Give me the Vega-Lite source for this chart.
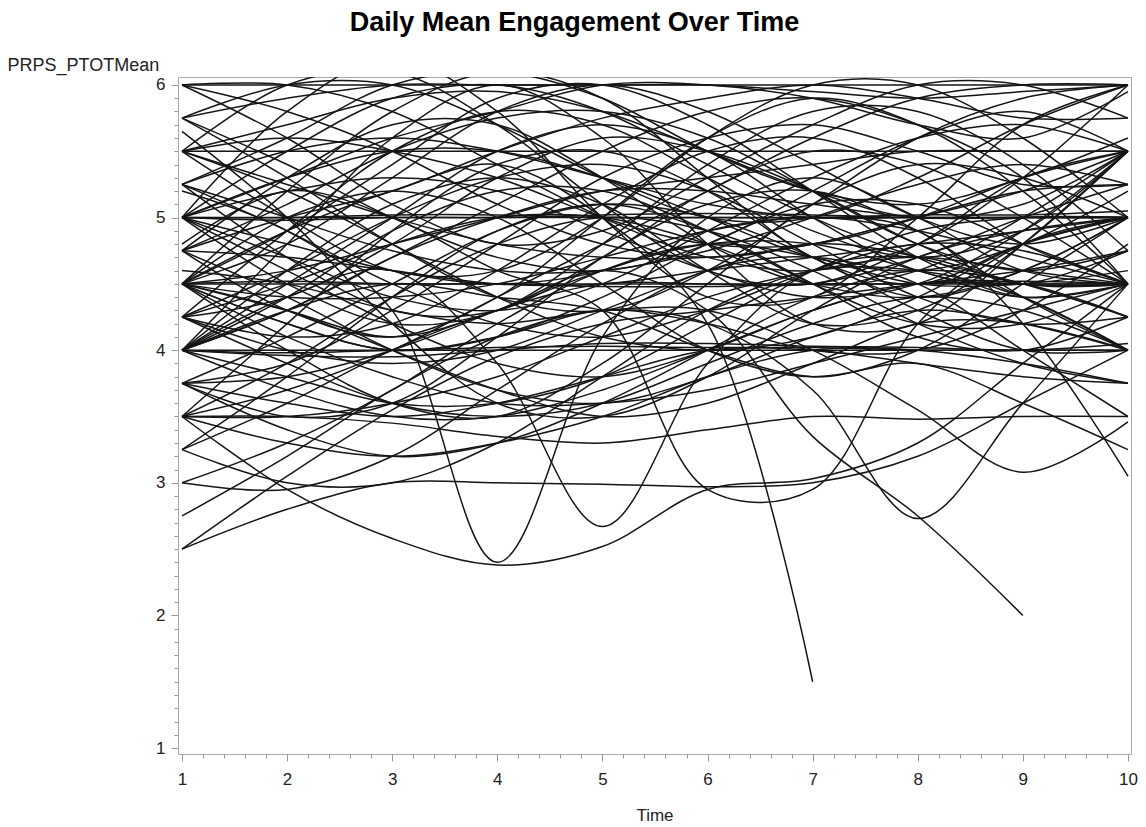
{
"$schema":"https://vega.github.io/schema/vega-lite/v6.json",
"width":953,"height":677,
"autosize":{"type":"none"},
"padding":{"left":178,"top":77,"right":15,"bottom":73},
"background":"white",
"config":{"view":{"stroke":"#a8a8a8","strokeWidth":1},"font":"Liberation Sans"},
"title":{"text":"Daily Mean Engagement Over Time","fontSize":27,"fontWeight":"bold","font":"Liberation Sans","color":"#000","anchor":"middle","frame":"group","dx":-80,"offset":19},
"data":{"values":[
{"s":1,"t":1,"v":6},{"s":1,"t":2,"v":6},{"s":1,"t":3,"v":6},{"s":1,"t":4,"v":6},{"s":1,"t":5,"v":6},{"s":1,"t":6,"v":6},{"s":1,"t":7,"v":6},{"s":1,"t":8,"v":6},{"s":1,"t":9,"v":6},{"s":1,"t":10,"v":6},
{"s":2,"t":1,"v":5.5},{"s":2,"t":2,"v":5.5},{"s":2,"t":3,"v":5.5},{"s":2,"t":4,"v":5.5},{"s":2,"t":5,"v":5.5},{"s":2,"t":6,"v":5.5},{"s":2,"t":7,"v":5.5},{"s":2,"t":8,"v":5.5},{"s":2,"t":9,"v":5.5},{"s":2,"t":10,"v":5.5},
{"s":3,"t":1,"v":5},{"s":3,"t":2,"v":5},{"s":3,"t":3,"v":5},{"s":3,"t":4,"v":5},{"s":3,"t":5,"v":5},{"s":3,"t":6,"v":5},{"s":3,"t":7,"v":5},{"s":3,"t":8,"v":5},{"s":3,"t":9,"v":5},{"s":3,"t":10,"v":5},
{"s":4,"t":1,"v":5},{"s":4,"t":2,"v":5},{"s":4,"t":3,"v":5.02},{"s":4,"t":4,"v":5.02},{"s":4,"t":5,"v":5},{"s":4,"t":6,"v":5},{"s":4,"t":7,"v":5},{"s":4,"t":8,"v":5.02},{"s":4,"t":9,"v":5.02},{"s":4,"t":10,"v":5.05},
{"s":5,"t":1,"v":5},{"s":5,"t":2,"v":4.98},{"s":5,"t":3,"v":5},{"s":5,"t":4,"v":5},{"s":5,"t":5,"v":5.02},{"s":5,"t":6,"v":5.03},{"s":5,"t":7,"v":5.02},{"s":5,"t":8,"v":5},{"s":5,"t":9,"v":5},{"s":5,"t":10,"v":5},
{"s":6,"t":1,"v":4.5},{"s":6,"t":2,"v":4.5},{"s":6,"t":3,"v":4.5},{"s":6,"t":4,"v":4.5},{"s":6,"t":5,"v":4.5},{"s":6,"t":6,"v":4.5},{"s":6,"t":7,"v":4.5},{"s":6,"t":8,"v":4.5},{"s":6,"t":9,"v":4.5},{"s":6,"t":10,"v":4.5},
{"s":7,"t":1,"v":4.5},{"s":7,"t":2,"v":4.52},{"s":7,"t":3,"v":4.5},{"s":7,"t":4,"v":4.5},{"s":7,"t":5,"v":4.48},{"s":7,"t":6,"v":4.48},{"s":7,"t":7,"v":4.5},{"s":7,"t":8,"v":4.5},{"s":7,"t":9,"v":4.52},{"s":7,"t":10,"v":4.5},
{"s":8,"t":1,"v":4},{"s":8,"t":2,"v":4},{"s":8,"t":3,"v":4},{"s":8,"t":4,"v":4},{"s":8,"t":5,"v":4},{"s":8,"t":6,"v":4},{"s":8,"t":7,"v":4},{"s":8,"t":8,"v":4},{"s":8,"t":9,"v":4},{"s":8,"t":10,"v":4},
{"s":9,"t":1,"v":4},{"s":9,"t":2,"v":3.98},{"s":9,"t":3,"v":4},{"s":9,"t":4,"v":4.02},{"s":9,"t":5,"v":4.03},{"s":9,"t":6,"v":4.02},{"s":9,"t":7,"v":4.02},{"s":9,"t":8,"v":4},{"s":9,"t":9,"v":4},{"s":9,"t":10,"v":4},
{"s":10,"t":1,"v":4},{"s":10,"t":2,"v":3.96},{"s":10,"t":3,"v":3.95},{"s":10,"t":4,"v":4},{"s":10,"t":5,"v":4.05},{"s":10,"t":6,"v":4.05},{"s":10,"t":7,"v":4.03},{"s":10,"t":8,"v":4.02},{"s":10,"t":9,"v":4},{"s":10,"t":10,"v":4.05},
{"s":11,"t":1,"v":3.5},{"s":11,"t":2,"v":3.5},{"s":11,"t":3,"v":3.45},{"s":11,"t":4,"v":3.35},{"s":11,"t":5,"v":3.3},{"s":11,"t":6,"v":3.4},{"s":11,"t":7,"v":3.5},{"s":11,"t":8,"v":3.48},{"s":11,"t":9,"v":3.5},{"s":11,"t":10,"v":3.5},
{"s":12,"t":1,"v":3.5},{"s":12,"t":2,"v":2.95},{"s":12,"t":3,"v":2.58},{"s":12,"t":4,"v":2.38},{"s":12,"t":5,"v":2.52},{"s":12,"t":6,"v":2.95},{"s":12,"t":7,"v":3.03},{"s":12,"t":8,"v":3.3},{"s":12,"t":9,"v":3.9},{"s":12,"t":10,"v":4.5},
{"s":13,"t":1,"v":2.5},{"s":13,"t":2,"v":2.8},{"s":13,"t":3,"v":3.0},{"s":13,"t":4,"v":3.0},{"s":13,"t":5,"v":2.99},{"s":13,"t":6,"v":2.97},{"s":13,"t":7,"v":3.0},{"s":13,"t":8,"v":3.2},{"s":13,"t":9,"v":3.6},{"s":13,"t":10,"v":4.0},
{"s":14,"t":1,"v":2.5},{"s":14,"t":2,"v":3.05},{"s":14,"t":3,"v":3.55},{"s":14,"t":4,"v":3.95},{"s":14,"t":5,"v":4.2},{"s":14,"t":6,"v":4.3},{"s":14,"t":7,"v":4.4},{"s":14,"t":8,"v":4.5},{"s":14,"t":9,"v":4.6},{"s":14,"t":10,"v":4.75},
{"s":15,"t":1,"v":4.5},{"s":15,"t":2,"v":4.9},{"s":15,"t":3,"v":5.2},{"s":15,"t":4,"v":5.4},{"s":15,"t":5,"v":5.0},{"s":15,"t":6,"v":4.2},{"s":15,"t":7,"v":1.5},
{"s":16,"t":1,"v":4.5},{"s":16,"t":2,"v":4.3},{"s":16,"t":3,"v":4.1},{"s":16,"t":4,"v":4.3},{"s":16,"t":5,"v":4.6},{"s":16,"t":6,"v":4.3},{"s":16,"t":7,"v":3.35},{"s":16,"t":8,"v":2.75},{"s":16,"t":9,"v":2.0},
{"s":17,"t":1,"v":5.2},{"s":17,"t":2,"v":4.9},{"s":17,"t":3,"v":4.3},{"s":17,"t":4,"v":2.4},{"s":17,"t":5,"v":4.1},{"s":17,"t":6,"v":5.0},{"s":17,"t":7,"v":5.3},{"s":17,"t":8,"v":5.0},{"s":17,"t":9,"v":4.6},{"s":17,"t":10,"v":4.5},
{"s":18,"t":1,"v":4.0},{"s":18,"t":2,"v":4.4},{"s":18,"t":3,"v":4.6},{"s":18,"t":4,"v":3.9},{"s":18,"t":5,"v":2.67},{"s":18,"t":6,"v":3.9},{"s":18,"t":7,"v":4.6},{"s":18,"t":8,"v":4.7},{"s":18,"t":9,"v":4.5},{"s":18,"t":10,"v":4.5},
{"s":19,"t":1,"v":4.8},{"s":19,"t":2,"v":5.2},{"s":19,"t":3,"v":5.0},{"s":19,"t":4,"v":4.6},{"s":19,"t":5,"v":4.3},{"s":19,"t":6,"v":2.95},{"s":19,"t":7,"v":2.95},{"s":19,"t":8,"v":4.2},{"s":19,"t":9,"v":4.8},{"s":19,"t":10,"v":5.0},
{"s":20,"t":1,"v":4.5},{"s":20,"t":2,"v":4.2},{"s":20,"t":3,"v":4.0},{"s":20,"t":4,"v":4.1},{"s":20,"t":5,"v":4.3},{"s":20,"t":6,"v":4.2},{"s":20,"t":7,"v":3.7},{"s":20,"t":8,"v":2.73},{"s":20,"t":9,"v":3.6},{"s":20,"t":10,"v":4.5},
{"s":21,"t":1,"v":4.6},{"s":21,"t":2,"v":4.5},{"s":21,"t":3,"v":4.3},{"s":21,"t":4,"v":4.2},{"s":21,"t":5,"v":4.3},{"s":21,"t":6,"v":4.3},{"s":21,"t":7,"v":4.0},{"s":21,"t":8,"v":3.55},{"s":21,"t":9,"v":3.08},{"s":21,"t":10,"v":3.46},
{"s":22,"t":1,"v":5.0},{"s":22,"t":2,"v":4.8},{"s":22,"t":3,"v":4.6},{"s":22,"t":4,"v":4.5},{"s":22,"t":5,"v":4.6},{"s":22,"t":6,"v":4.9},{"s":22,"t":7,"v":5.0},{"s":22,"t":8,"v":4.9},{"s":22,"t":9,"v":4.2},{"s":22,"t":10,"v":3.05},
{"s":23,"t":1,"v":4.0},{"s":23,"t":2,"v":4.3},{"s":23,"t":3,"v":4.5},{"s":23,"t":4,"v":4.4},{"s":23,"t":5,"v":4.3},{"s":23,"t":6,"v":4.0},{"s":23,"t":7,"v":3.8},{"s":23,"t":8,"v":3.9},{"s":23,"t":9,"v":3.6},{"s":23,"t":10,"v":3.25},
{"s":24,"t":1,"v":5.65},{"s":24,"t":2,"v":5.0},{"s":24,"t":3,"v":4.2},{"s":24,"t":4,"v":3.6},{"s":24,"t":5,"v":3.5},{"s":24,"t":6,"v":3.8},{"s":24,"t":7,"v":4.3},{"s":24,"t":8,"v":4.7},{"s":24,"t":9,"v":4.9},{"s":24,"t":10,"v":5.0},
{"s":25,"t":1,"v":5.5},{"s":25,"t":2,"v":5.7},{"s":25,"t":3,"v":5.9},{"s":25,"t":4,"v":5.95},{"s":25,"t":5,"v":5.8},{"s":25,"t":6,"v":5.5},{"s":25,"t":7,"v":5.2},{"s":25,"t":8,"v":5.0},{"s":25,"t":9,"v":5.1},{"s":25,"t":10,"v":5.5},
{"s":26,"t":1,"v":5.25},{"s":26,"t":2,"v":5.6},{"s":26,"t":3,"v":6.0},{"s":26,"t":4,"v":6.1},{"s":26,"t":5,"v":5.9},{"s":26,"t":6,"v":5.5},{"s":26,"t":7,"v":5.2},{"s":26,"t":8,"v":5.1},{"s":26,"t":9,"v":5.3},{"s":26,"t":10,"v":5.6},
{"s":27,"t":1,"v":5.75},{"s":27,"t":2,"v":5.9},{"s":27,"t":3,"v":6.0},{"s":27,"t":4,"v":6.0},{"s":27,"t":5,"v":6.0},{"s":27,"t":6,"v":6.0},{"s":27,"t":7,"v":5.95},{"s":27,"t":8,"v":5.9},{"s":27,"t":9,"v":5.95},{"s":27,"t":10,"v":6.0},
{"s":28,"t":1,"v":5.0},{"s":28,"t":2,"v":5.3},{"s":28,"t":3,"v":5.6},{"s":28,"t":4,"v":5.8},{"s":28,"t":5,"v":6.0},{"s":28,"t":6,"v":6.0},{"s":28,"t":7,"v":5.9},{"s":28,"t":8,"v":5.7},{"s":28,"t":9,"v":5.6},{"s":28,"t":10,"v":5.95},
{"s":29,"t":1,"v":4.75},{"s":29,"t":2,"v":5.0},{"s":29,"t":3,"v":5.2},{"s":29,"t":4,"v":5.5},{"s":29,"t":5,"v":5.75},{"s":29,"t":6,"v":5.9},{"s":29,"t":7,"v":6.0},{"s":29,"t":8,"v":5.9},{"s":29,"t":9,"v":5.75},{"s":29,"t":10,"v":5.75},
{"s":30,"t":1,"v":4.5},{"s":30,"t":2,"v":4.8},{"s":30,"t":3,"v":5.3},{"s":30,"t":4,"v":5.8},{"s":30,"t":5,"v":6.0},{"s":30,"t":6,"v":5.8},{"s":30,"t":7,"v":5.4},{"s":30,"t":8,"v":5.0},{"s":30,"t":9,"v":4.8},{"s":30,"t":10,"v":5.0},
{"s":31,"t":1,"v":4.25},{"s":31,"t":2,"v":4.4},{"s":31,"t":3,"v":4.8},{"s":31,"t":4,"v":5.3},{"s":31,"t":5,"v":5.6},{"s":31,"t":6,"v":5.5},{"s":31,"t":7,"v":5.2},{"s":31,"t":8,"v":4.8},{"s":31,"t":9,"v":4.5},{"s":31,"t":10,"v":4.5},
{"s":32,"t":1,"v":4.0},{"s":32,"t":2,"v":4.5},{"s":32,"t":3,"v":5.0},{"s":32,"t":4,"v":5.5},{"s":32,"t":5,"v":5.7},{"s":32,"t":6,"v":5.5},{"s":32,"t":7,"v":5.0},{"s":32,"t":8,"v":4.6},{"s":32,"t":9,"v":4.5},{"s":32,"t":10,"v":4.75},
{"s":33,"t":1,"v":3.75},{"s":33,"t":2,"v":3.9},{"s":33,"t":3,"v":4.3},{"s":33,"t":4,"v":4.8},{"s":33,"t":5,"v":5.3},{"s":33,"t":6,"v":5.6},{"s":33,"t":7,"v":5.7},{"s":33,"t":8,"v":5.5},{"s":33,"t":9,"v":5.25},{"s":33,"t":10,"v":5.25},
{"s":34,"t":1,"v":3.5},{"s":34,"t":2,"v":3.7},{"s":34,"t":3,"v":4.0},{"s":34,"t":4,"v":4.4},{"s":34,"t":5,"v":4.8},{"s":34,"t":6,"v":5.2},{"s":34,"t":7,"v":5.6},{"s":34,"t":8,"v":5.9},{"s":34,"t":9,"v":6.0},{"s":34,"t":10,"v":6.0},
{"s":35,"t":1,"v":3.25},{"s":35,"t":2,"v":3.6},{"s":35,"t":3,"v":4.0},{"s":35,"t":4,"v":4.3},{"s":35,"t":5,"v":4.5},{"s":35,"t":6,"v":4.5},{"s":35,"t":7,"v":4.5},{"s":35,"t":8,"v":4.7},{"s":35,"t":9,"v":5.0},{"s":35,"t":10,"v":5.25},
{"s":36,"t":1,"v":3.0},{"s":36,"t":2,"v":3.3},{"s":36,"t":3,"v":3.7},{"s":36,"t":4,"v":4.2},{"s":36,"t":5,"v":4.6},{"s":36,"t":6,"v":4.8},{"s":36,"t":7,"v":4.7},{"s":36,"t":8,"v":4.5},{"s":36,"t":9,"v":4.5},{"s":36,"t":10,"v":4.6},
{"s":37,"t":1,"v":2.75},{"s":37,"t":2,"v":3.2},{"s":37,"t":3,"v":3.7},{"s":37,"t":4,"v":4.1},{"s":37,"t":5,"v":4.3},{"s":37,"t":6,"v":4.2},{"s":37,"t":7,"v":4.0},{"s":37,"t":8,"v":4.0},{"s":37,"t":9,"v":4.3},{"s":37,"t":10,"v":4.8},
{"s":38,"t":1,"v":5.5},{"s":38,"t":2,"v":5.2},{"s":38,"t":3,"v":4.8},{"s":38,"t":4,"v":4.4},{"s":38,"t":5,"v":4.1},{"s":38,"t":6,"v":4.0},{"s":38,"t":7,"v":4.1},{"s":38,"t":8,"v":4.4},{"s":38,"t":9,"v":4.8},{"s":38,"t":10,"v":5.0},
{"s":39,"t":1,"v":5.25},{"s":39,"t":2,"v":4.9},{"s":39,"t":3,"v":4.5},{"s":39,"t":4,"v":4.2},{"s":39,"t":5,"v":4.1},{"s":39,"t":6,"v":4.3},{"s":39,"t":7,"v":4.6},{"s":39,"t":8,"v":4.8},{"s":39,"t":9,"v":4.75},{"s":39,"t":10,"v":4.5},
{"s":40,"t":1,"v":5.0},{"s":40,"t":2,"v":4.6},{"s":40,"t":3,"v":4.2},{"s":40,"t":4,"v":3.9},{"s":40,"t":5,"v":3.8},{"s":40,"t":6,"v":4.0},{"s":40,"t":7,"v":4.3},{"s":40,"t":8,"v":4.5},{"s":40,"t":9,"v":4.5},{"s":40,"t":10,"v":4.25},
{"s":41,"t":1,"v":4.75},{"s":41,"t":2,"v":4.4},{"s":41,"t":3,"v":4.0},{"s":41,"t":4,"v":3.7},{"s":41,"t":5,"v":3.6},{"s":41,"t":6,"v":3.8},{"s":41,"t":7,"v":4.1},{"s":41,"t":8,"v":4.3},{"s":41,"t":9,"v":4.2},{"s":41,"t":10,"v":4.0},
{"s":42,"t":1,"v":4.5},{"s":42,"t":2,"v":4.1},{"s":42,"t":3,"v":3.8},{"s":42,"t":4,"v":3.6},{"s":42,"t":5,"v":3.6},{"s":42,"t":6,"v":3.7},{"s":42,"t":7,"v":3.9},{"s":42,"t":8,"v":4.1},{"s":42,"t":9,"v":4.3},{"s":42,"t":10,"v":4.5},
{"s":43,"t":1,"v":4.25},{"s":43,"t":2,"v":3.9},{"s":43,"t":3,"v":3.6},{"s":43,"t":4,"v":3.5},{"s":43,"t":5,"v":3.6},{"s":43,"t":6,"v":3.9},{"s":43,"t":7,"v":4.2},{"s":43,"t":8,"v":4.4},{"s":43,"t":9,"v":4.3},{"s":43,"t":10,"v":4.0},
{"s":44,"t":1,"v":4.0},{"s":44,"t":2,"v":3.7},{"s":44,"t":3,"v":3.5},{"s":44,"t":4,"v":3.5},{"s":44,"t":5,"v":3.7},{"s":44,"t":6,"v":4.0},{"s":44,"t":7,"v":4.3},{"s":44,"t":8,"v":4.5},{"s":44,"t":9,"v":4.5},{"s":44,"t":10,"v":4.5},
{"s":45,"t":1,"v":3.75},{"s":45,"t":2,"v":3.4},{"s":45,"t":3,"v":3.2},{"s":45,"t":4,"v":3.3},{"s":45,"t":5,"v":3.6},{"s":45,"t":6,"v":4.0},{"s":45,"t":7,"v":4.4},{"s":45,"t":8,"v":4.6},{"s":45,"t":9,"v":4.5},{"s":45,"t":10,"v":4.25},
{"s":46,"t":1,"v":3.5},{"s":46,"t":2,"v":3.3},{"s":46,"t":3,"v":3.2},{"s":46,"t":4,"v":3.3},{"s":46,"t":5,"v":3.5},{"s":46,"t":6,"v":3.8},{"s":46,"t":7,"v":4.0},{"s":46,"t":8,"v":4.0},{"s":46,"t":9,"v":3.9},{"s":46,"t":10,"v":3.75},
{"s":47,"t":1,"v":3.25},{"s":47,"t":2,"v":3.0},{"s":47,"t":3,"v":3.0},{"s":47,"t":4,"v":3.3},{"s":47,"t":5,"v":3.8},{"s":47,"t":6,"v":4.3},{"s":47,"t":7,"v":4.6},{"s":47,"t":8,"v":4.6},{"s":47,"t":9,"v":4.4},{"s":47,"t":10,"v":4.0},
{"s":48,"t":1,"v":3.0},{"s":48,"t":2,"v":2.95},{"s":48,"t":3,"v":3.2},{"s":48,"t":4,"v":3.7},{"s":48,"t":5,"v":4.2},{"s":48,"t":6,"v":4.6},{"s":48,"t":7,"v":4.7},{"s":48,"t":8,"v":4.5},{"s":48,"t":9,"v":4.0},{"s":48,"t":10,"v":3.5},
{"s":49,"t":1,"v":6.0},{"s":49,"t":2,"v":5.8},{"s":49,"t":3,"v":5.5},{"s":49,"t":4,"v":5.1},{"s":49,"t":5,"v":4.8},{"s":49,"t":6,"v":4.7},{"s":49,"t":7,"v":4.8},{"s":49,"t":8,"v":5.0},{"s":49,"t":9,"v":5.2},{"s":49,"t":10,"v":5.5},
{"s":50,"t":1,"v":5.75},{"s":50,"t":2,"v":5.4},{"s":50,"t":3,"v":5.0},{"s":50,"t":4,"v":4.7},{"s":50,"t":5,"v":4.6},{"s":50,"t":6,"v":4.8},{"s":50,"t":7,"v":5.2},{"s":50,"t":8,"v":5.6},{"s":50,"t":9,"v":5.8},{"s":50,"t":10,"v":5.5},
{"s":51,"t":1,"v":5.5},{"s":51,"t":2,"v":5.6},{"s":51,"t":3,"v":5.5},{"s":51,"t":4,"v":5.3},{"s":51,"t":5,"v":5.0},{"s":51,"t":6,"v":4.8},{"s":51,"t":7,"v":4.8},{"s":51,"t":8,"v":5.0},{"s":51,"t":9,"v":5.3},{"s":51,"t":10,"v":5.5},
{"s":52,"t":1,"v":4.5},{"s":52,"t":2,"v":4.9},{"s":52,"t":3,"v":5.4},{"s":52,"t":4,"v":5.9},{"s":52,"t":5,"v":6.0},{"s":52,"t":6,"v":5.7},{"s":52,"t":7,"v":5.2},{"s":52,"t":8,"v":4.7},{"s":52,"t":9,"v":4.4},{"s":52,"t":10,"v":4.5},
{"s":53,"t":1,"v":4.0},{"s":53,"t":2,"v":4.3},{"s":53,"t":3,"v":4.7},{"s":53,"t":4,"v":5.0},{"s":53,"t":5,"v":5.2},{"s":53,"t":6,"v":5.2},{"s":53,"t":7,"v":5.1},{"s":53,"t":8,"v":5.0},{"s":53,"t":9,"v":5.0},{"s":53,"t":10,"v":5.0},
{"s":54,"t":1,"v":4.5},{"s":54,"t":2,"v":4.6},{"s":54,"t":3,"v":4.8},{"s":54,"t":4,"v":5.0},{"s":54,"t":5,"v":5.2},{"s":54,"t":6,"v":5.3},{"s":54,"t":7,"v":5.4},{"s":54,"t":8,"v":5.5},{"s":54,"t":9,"v":5.5},{"s":54,"t":10,"v":5.5},
{"s":55,"t":1,"v":5.0},{"s":55,"t":2,"v":5.3},{"s":55,"t":3,"v":5.5},{"s":55,"t":4,"v":5.5},{"s":55,"t":5,"v":5.3},{"s":55,"t":6,"v":5.0},{"s":55,"t":7,"v":4.7},{"s":55,"t":8,"v":4.6},{"s":55,"t":9,"v":4.8},{"s":55,"t":10,"v":5.2},
{"s":56,"t":1,"v":4.75},{"s":56,"t":2,"v":5.1},{"s":56,"t":3,"v":5.5},{"s":56,"t":4,"v":5.75},{"s":56,"t":5,"v":5.8},{"s":56,"t":6,"v":5.6},{"s":56,"t":7,"v":5.2},{"s":56,"t":8,"v":4.8},{"s":56,"t":9,"v":4.6},{"s":56,"t":10,"v":4.75},
{"s":57,"t":1,"v":5.25},{"s":57,"t":2,"v":5.0},{"s":57,"t":3,"v":4.75},{"s":57,"t":4,"v":4.6},{"s":57,"t":5,"v":4.6},{"s":57,"t":6,"v":4.75},{"s":57,"t":7,"v":5.0},{"s":57,"t":8,"v":5.25},{"s":57,"t":9,"v":5.4},{"s":57,"t":10,"v":5.25},
{"s":58,"t":1,"v":4.25},{"s":58,"t":2,"v":4.6},{"s":58,"t":3,"v":5.0},{"s":58,"t":4,"v":5.3},{"s":58,"t":5,"v":5.4},{"s":58,"t":6,"v":5.2},{"s":58,"t":7,"v":4.8},{"s":58,"t":8,"v":4.4},{"s":58,"t":9,"v":4.2},{"s":58,"t":10,"v":4.25},
{"s":59,"t":1,"v":3.75},{"s":59,"t":2,"v":4.1},{"s":59,"t":3,"v":4.5},{"s":59,"t":4,"v":4.9},{"s":59,"t":5,"v":5.1},{"s":59,"t":6,"v":5.0},{"s":59,"t":7,"v":4.7},{"s":59,"t":8,"v":4.3},{"s":59,"t":9,"v":4.0},{"s":59,"t":10,"v":4.0},
{"s":60,"t":1,"v":4.0},{"s":60,"t":2,"v":4.4},{"s":60,"t":3,"v":4.9},{"s":60,"t":4,"v":5.2},{"s":60,"t":5,"v":5.2},{"s":60,"t":6,"v":4.9},{"s":60,"t":7,"v":4.5},{"s":60,"t":8,"v":4.2},{"s":60,"t":9,"v":4.2},{"s":60,"t":10,"v":4.5},
{"s":61,"t":1,"v":5.0},{"s":61,"t":2,"v":4.7},{"s":61,"t":3,"v":4.4},{"s":61,"t":4,"v":4.3},{"s":61,"t":5,"v":4.5},{"s":61,"t":6,"v":4.9},{"s":61,"t":7,"v":5.3},{"s":61,"t":8,"v":5.6},{"s":61,"t":9,"v":5.7},{"s":61,"t":10,"v":5.5},
{"s":62,"t":1,"v":4.5},{"s":62,"t":2,"v":4.2},{"s":62,"t":3,"v":4.0},{"s":62,"t":4,"v":4.1},{"s":62,"t":5,"v":4.4},{"s":62,"t":6,"v":4.8},{"s":62,"t":7,"v":5.1},{"s":62,"t":8,"v":5.1},{"s":62,"t":9,"v":4.8},{"s":62,"t":10,"v":4.5},
{"s":63,"t":1,"v":6.0},{"s":63,"t":2,"v":6.0},{"s":63,"t":3,"v":5.8},{"s":63,"t":4,"v":5.4},{"s":63,"t":5,"v":5.0},{"s":63,"t":6,"v":4.7},{"s":63,"t":7,"v":4.6},{"s":63,"t":8,"v":4.8},{"s":63,"t":9,"v":5.3},{"s":63,"t":10,"v":6.0},
{"s":64,"t":1,"v":5.75},{"s":64,"t":2,"v":6.0},{"s":64,"t":3,"v":6.0},{"s":64,"t":4,"v":5.7},{"s":64,"t":5,"v":5.3},{"s":64,"t":6,"v":5.0},{"s":64,"t":7,"v":5.0},{"s":64,"t":8,"v":5.3},{"s":64,"t":9,"v":5.7},{"s":64,"t":10,"v":6.0},
{"s":65,"t":1,"v":4.25},{"s":65,"t":2,"v":4.5},{"s":65,"t":3,"v":4.8},{"s":65,"t":4,"v":5.0},{"s":65,"t":5,"v":5.0},{"s":65,"t":6,"v":4.8},{"s":65,"t":7,"v":4.5},{"s":65,"t":8,"v":4.4},{"s":65,"t":9,"v":4.6},{"s":65,"t":10,"v":5.0},
{"s":66,"t":1,"v":3.75},{"s":66,"t":2,"v":3.8},{"s":66,"t":3,"v":4.0},{"s":66,"t":4,"v":4.3},{"s":66,"t":5,"v":4.6},{"s":66,"t":6,"v":4.8},{"s":66,"t":7,"v":4.8},{"s":66,"t":8,"v":4.6},{"s":66,"t":9,"v":4.4},{"s":66,"t":10,"v":4.5},
{"s":67,"t":1,"v":4.5},{"s":67,"t":2,"v":4.3},{"s":67,"t":3,"v":4.0},{"s":67,"t":4,"v":3.7},{"s":67,"t":5,"v":3.5},{"s":67,"t":6,"v":3.6},{"s":67,"t":7,"v":3.9},{"s":67,"t":8,"v":4.2},{"s":67,"t":9,"v":4.2},{"s":67,"t":10,"v":4.0},
{"s":68,"t":1,"v":5.0},{"s":68,"t":2,"v":5.2},{"s":68,"t":3,"v":5.3},{"s":68,"t":4,"v":5.2},{"s":68,"t":5,"v":4.9},{"s":68,"t":6,"v":4.6},{"s":68,"t":7,"v":4.4},{"s":68,"t":8,"v":4.5},{"s":68,"t":9,"v":4.9},{"s":68,"t":10,"v":5.5},
{"s":69,"t":1,"v":3.5},{"s":69,"t":2,"v":3.9},{"s":69,"t":3,"v":4.4},{"s":69,"t":4,"v":4.8},{"s":69,"t":5,"v":5.0},{"s":69,"t":6,"v":4.9},{"s":69,"t":7,"v":4.6},{"s":69,"t":8,"v":4.2},{"s":69,"t":9,"v":3.9},{"s":69,"t":10,"v":3.75},
{"s":70,"t":1,"v":4.75},{"s":70,"t":2,"v":4.7},{"s":70,"t":3,"v":4.6},{"s":70,"t":4,"v":4.5},{"s":70,"t":5,"v":4.5},{"s":70,"t":6,"v":4.6},{"s":70,"t":7,"v":4.7},{"s":70,"t":8,"v":4.8},{"s":70,"t":9,"v":4.9},{"s":70,"t":10,"v":5.0},
{"s":71,"t":1,"v":5.5},{"s":71,"t":2,"v":5.25},{"s":71,"t":3,"v":5.0},{"s":71,"t":4,"v":4.8},{"s":71,"t":5,"v":4.7},{"s":71,"t":6,"v":4.7},{"s":71,"t":7,"v":4.8},{"s":71,"t":8,"v":5.0},{"s":71,"t":9,"v":5.2},{"s":71,"t":10,"v":5.25},
{"s":72,"t":1,"v":4.0},{"s":72,"t":2,"v":3.8},{"s":72,"t":3,"v":3.6},{"s":72,"t":4,"v":3.6},{"s":72,"t":5,"v":3.8},{"s":72,"t":6,"v":4.2},{"s":72,"t":7,"v":4.6},{"s":72,"t":8,"v":4.9},{"s":72,"t":9,"v":5.0},{"s":72,"t":10,"v":5.0},
{"s":73,"t":1,"v":5.0},{"s":73,"t":2,"v":5.5},{"s":73,"t":3,"v":5.9},{"s":73,"t":4,"v":6.0},{"s":73,"t":5,"v":5.8},{"s":73,"t":6,"v":5.4},{"s":73,"t":7,"v":5.0},{"s":73,"t":8,"v":4.7},{"s":73,"t":9,"v":4.5},{"s":73,"t":10,"v":4.25},
{"s":74,"t":1,"v":4.25},{"s":74,"t":2,"v":4.0},{"s":74,"t":3,"v":3.9},{"s":74,"t":4,"v":4.0},{"s":74,"t":5,"v":4.3},{"s":74,"t":6,"v":4.6},{"s":74,"t":7,"v":4.8},{"s":74,"t":8,"v":4.7},{"s":74,"t":9,"v":4.4},{"s":74,"t":10,"v":4.0},
{"s":75,"t":1,"v":3.5},{"s":75,"t":2,"v":3.5},{"s":75,"t":3,"v":3.6},{"s":75,"t":4,"v":3.8},{"s":75,"t":5,"v":4.1},{"s":75,"t":6,"v":4.4},{"s":75,"t":7,"v":4.6},{"s":75,"t":8,"v":4.7},{"s":75,"t":9,"v":4.6},{"s":75,"t":10,"v":4.5},
{"s":76,"t":1,"v":5.25},{"s":76,"t":2,"v":5.5},{"s":76,"t":3,"v":5.6},{"s":76,"t":4,"v":5.5},{"s":76,"t":5,"v":5.3},{"s":76,"t":6,"v":5.1},{"s":76,"t":7,"v":5.0},{"s":76,"t":8,"v":5.0},{"s":76,"t":9,"v":5.0},{"s":76,"t":10,"v":5.0},
{"s":77,"t":1,"v":4.5},{"s":77,"t":2,"v":4.4},{"s":77,"t":3,"v":4.4},{"s":77,"t":4,"v":4.5},{"s":77,"t":5,"v":4.7},{"s":77,"t":6,"v":4.9},{"s":77,"t":7,"v":5.0},{"s":77,"t":8,"v":4.9},{"s":77,"t":9,"v":4.7},{"s":77,"t":10,"v":4.5},
{"s":78,"t":1,"v":3.75},{"s":78,"t":2,"v":3.6},{"s":78,"t":3,"v":3.5},{"s":78,"t":4,"v":3.6},{"s":78,"t":5,"v":3.8},{"s":78,"t":6,"v":4.0},{"s":78,"t":7,"v":4.0},{"s":78,"t":8,"v":3.9},{"s":78,"t":9,"v":3.8},{"s":78,"t":10,"v":3.75},
{"s":79,"t":1,"v":4.0},{"s":79,"t":2,"v":4.8},{"s":79,"t":3,"v":5.6},{"s":79,"t":4,"v":6.0},{"s":79,"t":5,"v":5.6},{"s":79,"t":6,"v":4.8},{"s":79,"t":7,"v":4.2},{"s":79,"t":8,"v":4.2},{"s":79,"t":9,"v":4.8},{"s":79,"t":10,"v":5.5},
{"s":80,"t":1,"v":5.0},{"s":80,"t":2,"v":5.8},{"s":80,"t":3,"v":6.2},{"s":80,"t":4,"v":5.8},{"s":80,"t":5,"v":5.0},{"s":80,"t":6,"v":4.4},{"s":80,"t":7,"v":4.4},{"s":80,"t":8,"v":5.0},{"s":80,"t":9,"v":5.7},{"s":80,"t":10,"v":6.0},
{"s":81,"t":1,"v":4.5},{"s":81,"t":2,"v":5.2},{"s":81,"t":3,"v":5.8},{"s":81,"t":4,"v":6.1},{"s":81,"t":5,"v":5.9},{"s":81,"t":6,"v":5.3},{"s":81,"t":7,"v":4.7},{"s":81,"t":8,"v":4.5},{"s":81,"t":9,"v":4.8},{"s":81,"t":10,"v":5.0},
{"s":82,"t":1,"v":5.5},{"s":82,"t":2,"v":5.0},{"s":82,"t":3,"v":4.6},{"s":82,"t":4,"v":4.6},{"s":82,"t":5,"v":5.0},{"s":82,"t":6,"v":5.6},{"s":82,"t":7,"v":6.0},{"s":82,"t":8,"v":6.0},{"s":82,"t":9,"v":5.6},{"s":82,"t":10,"v":5.0},
{"s":83,"t":1,"v":4.75},{"s":83,"t":2,"v":4.3},{"s":83,"t":3,"v":4.1},{"s":83,"t":4,"v":4.4},{"s":83,"t":5,"v":5.0},{"s":83,"t":6,"v":5.6},{"s":83,"t":7,"v":5.9},{"s":83,"t":8,"v":5.7},{"s":83,"t":9,"v":5.2},{"s":83,"t":10,"v":4.5},
{"s":84,"t":1,"v":4.0},{"s":84,"t":2,"v":4.6},{"s":84,"t":3,"v":5.1},{"s":84,"t":4,"v":5.3},{"s":84,"t":5,"v":5.1},{"s":84,"t":6,"v":4.6},{"s":84,"t":7,"v":4.2},{"s":84,"t":8,"v":4.3},{"s":84,"t":9,"v":4.8},{"s":84,"t":10,"v":5.5},
{"s":85,"t":1,"v":5.25},{"s":85,"t":2,"v":4.7},{"s":85,"t":3,"v":4.3},{"s":85,"t":4,"v":4.3},{"s":85,"t":5,"v":4.7},{"s":85,"t":6,"v":5.2},{"s":85,"t":7,"v":5.5},{"s":85,"t":8,"v":5.4},{"s":85,"t":9,"v":5.0},{"s":85,"t":10,"v":4.5},
{"s":86,"t":1,"v":3.5},{"s":86,"t":2,"v":4.2},{"s":86,"t":3,"v":4.9},{"s":86,"t":4,"v":5.4},{"s":86,"t":5,"v":5.5},{"s":86,"t":6,"v":5.2},{"s":86,"t":7,"v":4.7},{"s":86,"t":8,"v":4.4},{"s":86,"t":9,"v":4.6},{"s":86,"t":10,"v":5.0},
{"s":87,"t":1,"v":4.5},{"s":87,"t":2,"v":4.0},{"s":87,"t":3,"v":3.6},{"s":87,"t":4,"v":3.5},{"s":87,"t":5,"v":3.9},{"s":87,"t":6,"v":4.5},{"s":87,"t":7,"v":5.1},{"s":87,"t":8,"v":5.4},{"s":87,"t":9,"v":5.3},{"s":87,"t":10,"v":5.0},
{"s":88,"t":1,"v":5.75},{"s":88,"t":2,"v":5.3},{"s":88,"t":3,"v":4.8},{"s":88,"t":4,"v":4.4},{"s":88,"t":5,"v":4.3},{"s":88,"t":6,"v":4.6},{"s":88,"t":7,"v":5.1},{"s":88,"t":8,"v":5.6},{"s":88,"t":9,"v":5.9},{"s":88,"t":10,"v":6.0},
{"s":89,"t":1,"v":4.25},{"s":89,"t":2,"v":4.9},{"s":89,"t":3,"v":5.5},{"s":89,"t":4,"v":5.8},{"s":89,"t":5,"v":5.7},{"s":89,"t":6,"v":5.3},{"s":89,"t":7,"v":4.9},{"s":89,"t":8,"v":4.7},{"s":89,"t":9,"v":4.9},{"s":89,"t":10,"v":5.5},
{"s":90,"t":1,"v":5.0},{"s":90,"t":2,"v":4.5},{"s":90,"t":3,"v":4.2},{"s":90,"t":4,"v":4.3},{"s":90,"t":5,"v":4.8},{"s":90,"t":6,"v":5.4},{"s":90,"t":7,"v":5.8},{"s":90,"t":8,"v":5.8},{"s":90,"t":9,"v":5.4},{"s":90,"t":10,"v":4.75},
{"s":91,"t":1,"v":3.75},{"s":91,"t":2,"v":3.5},{"s":91,"t":3,"v":3.6},{"s":91,"t":4,"v":4.1},{"s":91,"t":5,"v":4.7},{"s":91,"t":6,"v":5.1},{"s":91,"t":7,"v":5.2},{"s":91,"t":8,"v":4.9},{"s":91,"t":9,"v":4.4},{"s":91,"t":10,"v":4.0},
{"s":92,"t":1,"v":4.5},{"s":92,"t":2,"v":5.0},{"s":92,"t":3,"v":5.2},{"s":92,"t":4,"v":5.0},{"s":92,"t":5,"v":4.5},{"s":92,"t":6,"v":4.0},{"s":92,"t":7,"v":3.8},{"s":92,"t":8,"v":4.0},{"s":92,"t":9,"v":4.5},{"s":92,"t":10,"v":5.0},
{"s":93,"t":1,"v":6.0},{"s":93,"t":2,"v":5.6},{"s":93,"t":3,"v":5.1},{"s":93,"t":4,"v":4.8},{"s":93,"t":5,"v":4.9},{"s":93,"t":6,"v":5.3},{"s":93,"t":7,"v":5.7},{"s":93,"t":8,"v":6.0},{"s":93,"t":9,"v":6.0},{"s":93,"t":10,"v":5.75},
{"s":94,"t":1,"v":4.75},{"s":94,"t":2,"v":5.3},{"s":94,"t":3,"v":5.7},{"s":94,"t":4,"v":5.7},{"s":94,"t":5,"v":5.3},{"s":94,"t":6,"v":4.8},{"s":94,"t":7,"v":4.5},{"s":94,"t":8,"v":4.6},{"s":94,"t":9,"v":5.0},{"s":94,"t":10,"v":5.5},
{"s":95,"t":1,"v":5.5},{"s":95,"t":2,"v":6.0},{"s":95,"t":3,"v":6.1},{"s":95,"t":4,"v":5.7},{"s":95,"t":5,"v":5.1},{"s":95,"t":6,"v":4.6},{"s":95,"t":7,"v":4.5},{"s":95,"t":8,"v":4.8},{"s":95,"t":9,"v":5.3},{"s":95,"t":10,"v":5.5},
{"s":96,"t":1,"v":4.0},{"s":96,"t":2,"v":4.3},{"s":96,"t":3,"v":4.7},{"s":96,"t":4,"v":5.1},{"s":96,"t":5,"v":5.5},{"s":96,"t":6,"v":5.8},{"s":96,"t":7,"v":5.9},{"s":96,"t":8,"v":5.7},{"s":96,"t":9,"v":5.3},{"s":96,"t":10,"v":4.5},
{"s":97,"t":1,"v":3.25},{"s":97,"t":2,"v":3.8},{"s":97,"t":3,"v":4.4},{"s":97,"t":4,"v":4.9},{"s":97,"t":5,"v":5.1},{"s":97,"t":6,"v":4.9},{"s":97,"t":7,"v":4.5},{"s":97,"t":8,"v":4.1},{"s":97,"t":9,"v":4.0},{"s":97,"t":10,"v":4.25},
{"s":98,"t":1,"v":4.25},{"s":98,"t":2,"v":4.1},{"s":98,"t":3,"v":4.2},{"s":98,"t":4,"v":4.6},{"s":98,"t":5,"v":5.1},{"s":98,"t":6,"v":5.5},{"s":98,"t":7,"v":5.6},{"s":98,"t":8,"v":5.3},{"s":98,"t":9,"v":4.8},{"s":98,"t":10,"v":4.5}
]},
"layer":[
{"mark":{"type":"line","interpolate":"catmull-rom","clip":true,"color":"#151515","strokeWidth":1.5},
 "encoding":{
  "x":{"field":"t","type":"quantitative","scale":{"domain":[0.962,10.029],"nice":false,"zero":false},
       "axis":{"orient":"bottom","values":[1,2,3,4,5,6,7,8,9,10],"grid":false,"domain":false,"tickSize":7,"tickColor":"#9a9a9a","labelFontSize":17,"labelColor":"#222222","labelPadding":10,"labelFlush":false,"title":"Time","titleFontSize":17,"titleFontWeight":"normal","titleColor":"#222222","titlePadding":20}},
  "y":{"field":"v","type":"quantitative","scale":{"domain":[0.955,6.06],"nice":false,"zero":false},
       "axis":{"orient":"left","values":[1,2,3,4,5,6],"grid":false,"domain":false,"tickSize":7,"tickColor":"#9a9a9a","labelFontSize":17,"labelColor":"#222222","labelPadding":6,"labelFlush":false,"title":"PRPS_PTOTMean","titleAngle":0,"titleAlign":"left","titleBaseline":"middle","titleX":-171,"titleY":-12,"titleFontSize":18,"titleFontWeight":"normal","titleColor":"#222222"}},
  "detail":{"field":"s","type":"nominal"}}},
{"mark":{"type":"line","opacity":0},
 "encoding":{
  "x":{"field":"t","type":"quantitative","axis":{"orient":"bottom","values":[1.2,1.4,1.6,1.8,2.2,2.4,2.6,2.8,3.2,3.4,3.6,3.8,4.2,4.4,4.6,4.8,5.2,5.4,5.6,5.8,6.2,6.4,6.6,6.8,7.2,7.4,7.6,7.8,8.2,8.4,8.6,8.8,9.2,9.4,9.6,9.8],"labels":false,"grid":false,"domain":false,"tickSize":4,"tickColor":"#9a9a9a","title":null}},
  "y":{"field":"v","type":"quantitative","axis":{"orient":"left","values":[1.1,1.2,1.3,1.4,1.5,1.6,1.7,1.8,1.9,2.1,2.2,2.3,2.4,2.5,2.6,2.7,2.8,2.9,3.1,3.2,3.3,3.4,3.5,3.6,3.7,3.8,3.9,4.1,4.2,4.3,4.4,4.5,4.6,4.7,4.8,4.9,5.1,5.2,5.3,5.4,5.5,5.6,5.7,5.8,5.9],"labels":false,"grid":false,"domain":false,"tickSize":4,"tickColor":"#9a9a9a","title":null}},
  "detail":{"field":"s","type":"nominal"}}}
],
"resolve":{"axis":{"x":"independent","y":"independent"}}
}
